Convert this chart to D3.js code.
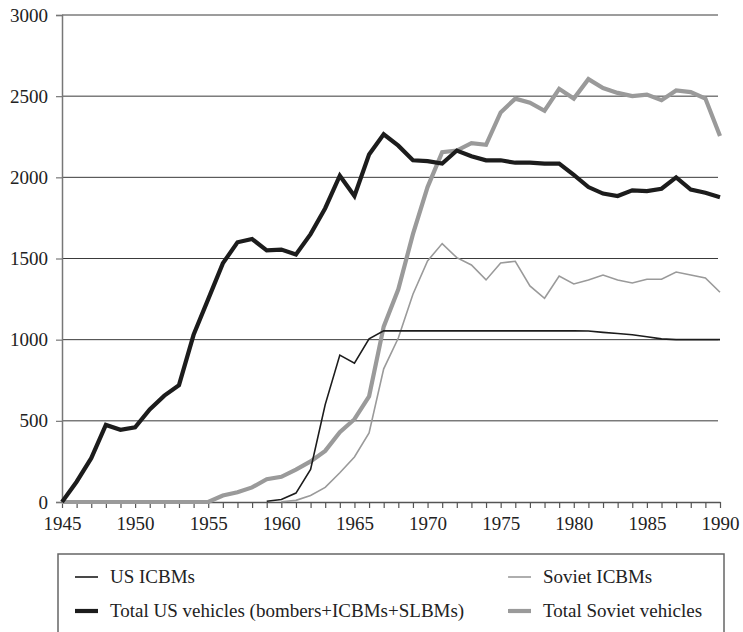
<!DOCTYPE html>
<html>
<head>
<meta charset="utf-8">
<script src="https://cdn.jsdelivr.net/npm/d3@7"></script>
<style>
  body { margin: 0; background: #fff; }
  svg text { font-family: 'Liberation Serif', 'DejaVu Serif', 'Times New Roman', serif !important; }
</style>
</head>
<body>
<svg id="chart" width="743" height="632"></svg>
<script>
const years = d3.range(1945, 1991);

const usTotal = [0, 125, 270, 475, 445, 460, 570, 655, 720, 1030,
  1250, 1470, 1600, 1620, 1550, 1555, 1525, 1650, 1810, 2010,
  1885, 2140, 2265, 2195, 2105, 2100, 2085, 2165, 2130, 2105,
  2105, 2090, 2090, 2085, 2085, 2015, 1940, 1900, 1885, 1920,
  1915, 1930, 2000, 1925, 1905, 1878];

const sovietTotal = [0, 0, 0, 0, 0, 0, 0, 0, 0, 0,
  0, 40, 60, 90, 140, 155, 200, 250, 315, 430,
  510, 650, 1080, 1310, 1650, 1940, 2155, 2165, 2210, 2200,
  2400, 2485, 2460, 2410, 2545, 2485, 2605, 2550, 2520, 2500,
  2510, 2475, 2535, 2525, 2485, 2255];

// US ICBMs start in 1959
const usIcbmYears = d3.range(1959, 1991);
const usIcbm = [5, 15, 55, 200, 600, 905, 855, 1005, 1054, 1054,
  1054, 1054, 1054, 1054, 1054, 1054, 1054, 1054, 1054, 1054,
  1054, 1054, 1053, 1045, 1038, 1030, 1018, 1005, 1000, 1000,
  1000, 1000];

// Soviet ICBMs start in 1960
const sovietIcbmYears = d3.range(1960, 1991);
const sovietIcbm = [2, 10, 40, 90, 180, 277, 425, 820, 1010, 1280,
  1485, 1592, 1505, 1460, 1368, 1472, 1483, 1331, 1255, 1392,
  1343, 1368, 1398, 1368, 1349, 1372, 1372, 1417, 1398, 1380,
  1292];

const yTicks = [0, 500, 1000, 1500, 2000, 2500, 3000];
const xLabels = [1945, 1950, 1955, 1960, 1965, 1970, 1975, 1980, 1985, 1990];

const series = [
  { name: "Total Soviet vehicles", x: years, y: sovietTotal, color: "#9a9a9a", width: 4.2 },
  { name: "Soviet ICBMs", x: sovietIcbmYears, y: sovietIcbm, color: "#9a9a9a", width: 1.6 },
  { name: "Total US vehicles (bombers+ICBMs+SLBMs)", x: years, y: usTotal, color: "#1c1c1c", width: 4.2 },
  { name: "US ICBMs", x: usIcbmYears, y: usIcbm, color: "#1c1c1c", width: 1.6 }
];

const svg = d3.select("#chart");

const x = d3.scaleLinear().domain([1945, 1990]).range([62, 720]);
const y = d3.scaleLinear().domain([0, 3000]).range([502, 15]);

// gridlines
svg.append("g")
  .selectAll("line")
  .data(yTicks.filter(d => d > 0))
  .join("line")
  .attr("x1", x(1945))
  .attr("x2", 718)
  .attr("y1", d => y(d))
  .attr("y2", d => y(d))
  .attr("stroke", "#3a3a3a")
  .attr("stroke-width", 1);

// y axis
const yAxis = svg.append("g")
  .attr("transform", `translate(${x(1945)},0)`)
  .call(d3.axisLeft(y).tickValues(yTicks).tickSize(6).tickPadding(8).tickFormat(d3.format("d")));
yAxis.attr("font-family", null);
yAxis.select(".domain").attr("stroke", "#777").attr("stroke-width", 1.5);
yAxis.selectAll(".tick line").attr("stroke", "#777").attr("stroke-width", 1.2);
yAxis.selectAll("text")
  .attr("font-size", 19)
  .attr("fill", "#222");

// x axis: tick every year, labels every 5
const xAxis = svg.append("g")
  .attr("transform", `translate(0,${y(0)})`)
  .call(d3.axisBottom(x).tickValues(years).tickSize(6).tickSizeOuter(0)
    .tickFormat(d => xLabels.includes(d) ? d : ""));
xAxis.attr("font-family", null);
xAxis.select(".domain").attr("stroke", "#555").attr("stroke-width", 1.5);
xAxis.selectAll(".tick line").attr("stroke", "#555").attr("stroke-width", 1.2);
xAxis.selectAll("text")
  .attr("font-size", 19)
  .attr("fill", "#222")
  .attr("dy", "1.0em");

// lines
const line = d3.line()
  .x(d => x(d[0]))
  .y(d => y(d[1]));

svg.append("g")
  .selectAll("path")
  .data(series)
  .join("path")
  .attr("d", s => line(s.x.map((yr, i) => [yr, s.y[i]])))
  .attr("fill", "none")
  .attr("stroke", s => s.color)
  .attr("stroke-width", s => s.width)
  .attr("stroke-linejoin", "miter")
  .attr("stroke-linecap", "butt");

// legend
const legend = svg.append("g");
legend.append("rect")
  .attr("x", 58)
  .attr("y", 554)
  .attr("width", 666)
  .attr("height", 90)
  .attr("fill", "none")
  .attr("stroke", "#666")
  .attr("stroke-width", 1.5);

const legendItems = [
  { s: series[3], lx: 75, ly: 577 },
  { s: series[1], lx: 508, ly: 577 },
  { s: series[2], lx: 75, ly: 611 },
  { s: series[0], lx: 508, ly: 611 }
];

const li = legend.selectAll("g.item")
  .data(legendItems)
  .join("g")
  .attr("class", "item")
  .attr("transform", d => `translate(${d.lx},${d.ly})`);

li.append("line")
  .attr("x1", 0)
  .attr("x2", 23)
  .attr("stroke", d => d.s.color)
  .attr("stroke-width", d => d.s.width);

li.append("text")
  .attr("x", 35)
  .attr("dy", "0.33em")
  .attr("font-size", 19)
  .attr("fill", "#222")
  .text(d => d.s.name);
</script>
</body>
</html>
